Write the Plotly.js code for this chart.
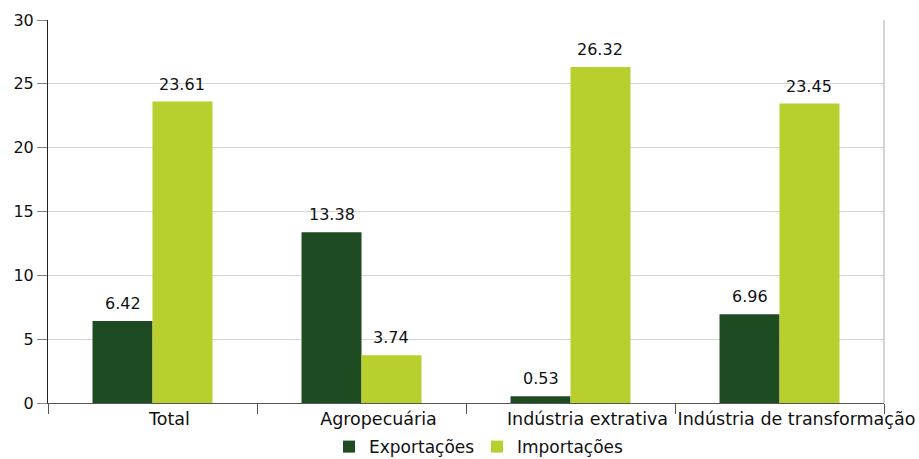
<!DOCTYPE html>
<html>
<head>
<meta charset="utf-8">
<script src="https://cdn.plot.ly/plotly-3.0.1.min.js"></script>
<style>html,body{margin:0;padding:0;background:#fff}#chart{width:919px;height:459px}</style>
</head>
<body>
<div id="chart"></div>
<script>
// Sector categories and the two series (percent)
const categories = ['Total', 'Agropecuária', 'Indústria extrativa', 'Indústria de transformação'];
const exportacoes = [6.42, 13.38, 0.53, 6.96];
const importacoes = [23.61, 3.74, 26.32, 23.45];
const seriesNames = ['Exportações', 'Importações'];
const yTicks = [0, 5, 10, 15, 20, 25, 30];

const darkGreen = '#1e4b22';
const lightGreen = '#b9cf2e';
const font = {family: '"DejaVu Sans", "Noto Sans", sans-serif', size: 16, color: '#111'};
const catFont = Object.assign({}, font, {size: 17.5});
const legendFont = Object.assign({}, font, {size: 17});

const traces = [
  {type: 'bar', name: seriesNames[0], x: categories, y: exportacoes, marker: {color: darkGreen}, hoverinfo: 'skip'},
  {type: 'bar', name: seriesNames[1], x: categories, y: importacoes, marker: {color: lightGreen}, hoverinfo: 'skip'}
];

// Value labels above each bar, offset to each bar's slot in the group
const annotations = [];
[exportacoes, importacoes].forEach((vals, s) => {
  vals.forEach((v, i) => {
    annotations.push({
      x: i + (s === 0 ? -0.143 : 0.143), xref: 'x', y: v, yref: 'y',
      text: v.toFixed(2), showarrow: false, yanchor: 'bottom', yshift: 6,
      font: font
    });
  });
});

const layout = {
  width: 919, height: 459,
  margin: {l: 48, r: 35, t: 20, b: 56, autoexpand: false},
  paper_bgcolor: '#fff', plot_bgcolor: '#fff',
  barmode: 'group', bargap: 0.426, bargroupgap: 0,
  font: font,
  showlegend: true,
  legend: {orientation: 'h', x: 0.358, xref: 'container', xanchor: 'left',
           y: -0.162, yref: 'paper', yanchor: 'bottom',
           font: legendFont, entrywidth: 103, entrywidthmode: 'pixels', tracegroupgap: 0},
  xaxis: {
    type: 'category', showgrid: false, showline: true, linecolor: '#555', linewidth: 1,
    ticks: 'outside', tickson: 'boundaries', ticklen: 10, tickcolor: '#555', tickangle: 0,
    ticklabelshift: 17, tickfont: catFont, fixedrange: true, automargin: false
  },
  yaxis: {
    range: [0, 30], tickvals: yTicks, showgrid: true, gridcolor: '#d4d4d4', gridwidth: 1,
    showline: true, linecolor: '#222', linewidth: 1, zeroline: false,
    ticks: 'outside', ticklen: 10, tickcolor: '#888', tickfont: font, fixedrange: true, automargin: false
  },
  annotations: annotations,
  shapes: [
    {type: 'line', xref: 'paper', yref: 'paper', x0: 1, x1: 1, y0: 0, y1: 1, line: {color: '#aaa', width: 1}}
  ]
};

Plotly.newPlot('chart', traces, layout, {displayModeBar: false, staticPlot: true});
</script>
</body>
</html>
